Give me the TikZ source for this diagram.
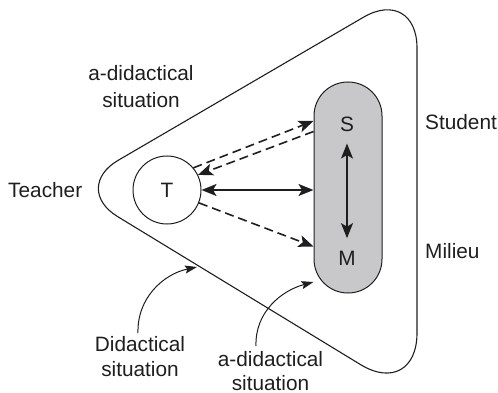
\documentclass[tikz,border=0pt]{standalone}
\usepackage{fontspec}
\setmainfont{Liberation Sans}
\usetikzlibrary{arrows.meta,calc}
\definecolor{ink}{RGB}{30,30,30}
\definecolor{pillgray}{RGB}{200,200,202}
\begin{document}
\begin{tikzpicture}[x=1pt,y=1pt,
  txt/.style={font=\fontsize{20.8}{24}\selectfont, inner sep=0pt, text=ink},
  lbl/.style={txt, anchor=base},
  dblarr/.style={draw=ink, line width=1.6pt, {Stealth[length=15pt,width=12pt,inset=3.5pt]}-{Stealth[length=15pt,width=12pt,inset=3.5pt]}},
  dasharr/.style={draw=ink, line width=1.6pt, dash pattern=on 9pt off 5pt, -{Stealth[length=15pt,width=12pt,inset=3.5pt]}},
  curarr/.style={draw=ink, line width=1pt, -{Stealth[length=12pt,width=8pt,inset=2pt]}}]
\useasboundingbox (0,0) rectangle (498,-393);
% rounded triangle
\coordinate (L) at (70.7,-188);
\coordinate (TR) at (417,14);
\coordinate (BR) at (417,-399);
\coordinate (L1) at ($(L)!55pt!(TR)$);
\coordinate (L2) at ($(L)!55pt!(BR)$);
\coordinate (T1) at ($(TR)!62pt!(L)$);
\coordinate (T2) at ($(TR)!62pt!(BR)$);
\coordinate (B1) at ($(BR)!66pt!(TR)$);
\coordinate (B2) at ($(BR)!66pt!(L)$);
\draw[ink, line width=1.1pt] (L1) -- (T1)
  .. controls ($(T1)!0.5523!(TR)$) and ($(T2)!0.5523!(TR)$) .. (T2) -- (B1)
  .. controls ($(B1)!0.5523!(BR)$) and ($(B2)!0.5523!(BR)$) .. (B2) -- (L2)
  .. controls ($(L2)!0.5523!(L)$) and ($(L1)!0.5523!(L)$) .. cycle;
% student-milieu pill
\node[draw=ink, line width=1pt, fill=pillgray, rounded corners=33.9pt,
      minimum width=68pt, minimum height=211pt, inner sep=0pt] (SM) at (348,-187.5) {};
\node[txt] (S) at (347,-124) {S};
\node[txt] (M) at (347,-258) {M};
% teacher circle
\node[draw=ink, line width=1pt, circle, minimum size=68pt, inner sep=0pt, txt] (T) at (167,-190) {T};
% arrows
\draw[dblarr] ([yshift=-12pt]S.south) -- ([yshift=12.5pt]M.north);
\draw[dblarr] (T.east) -- (T.east -| SM.west);
\draw[dasharr] (T.40) -- ([yshift=66.5pt]SM.west);
\draw[dasharr] ([yshift=56pt]SM.west) -- (T.26);
\draw[dasharr] (T.-22) -- ([yshift=-59pt]SM.west);
% labels
\node[lbl, anchor=base west] (teacher) at (8,-197.5) {Teacher};
\node[lbl, anchor=base west] (student) at (425,-130) {Student};
\node[lbl, anchor=base west] (milieu) at (425,-258) {Milieu};
\node[lbl] (ad1) at (141,-81) {a-didactical};
\node[lbl] (ad1b) at (141,-108) {situation};
\node[lbl] (ds1) at (140,-351.5) {Didactical};
\node[lbl] (ds1b) at (140,-376.5) {situation};
\node[lbl] (ad2) at (270.5,-366.5) {a-didactical};
\node[lbl] (ad2b) at (270.5,-390) {situation};
% pointer arrows
\coordinate (e1) at (197,-267);
\coordinate (e2) at (313.5,-282);
\coordinate (s2) at (256,-346);
\draw[curarr] ([xshift=-2pt,yshift=3pt]ds1.north) to[out=92, in=192] (e1);
\draw[curarr] (s2) to[out=92, in=195] (e2);
\end{tikzpicture}
\end{document}
